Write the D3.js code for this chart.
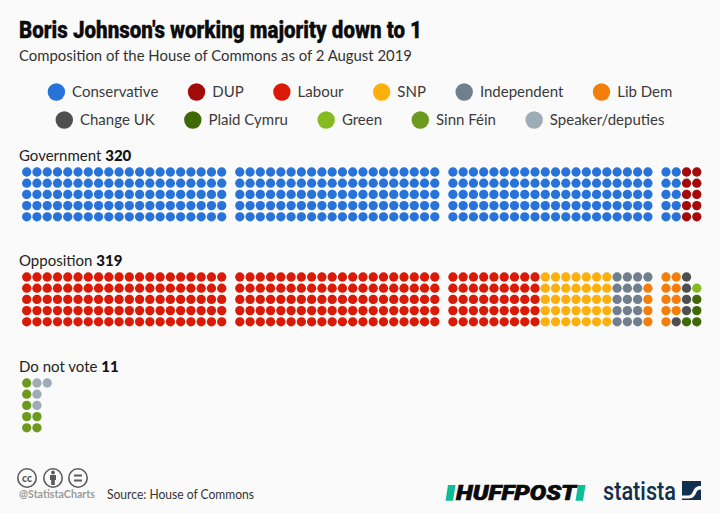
<!DOCTYPE html>
<html><head><meta charset="utf-8">
<script src="https://cdn.jsdelivr.net/npm/d3@7/dist/d3.min.js"></script>
<style>html,body{margin:0;padding:0;background:#fafafa}svg{display:block}text{font-family:Lato,"Open Sans",sans-serif}</style>
</head><body><svg id="c" width="720" height="513"></svg>
<script>
const title = "Boris Johnson's working majority down to 1";
const subtitle = "Composition of the House of Commons as of 2 August 2019";
const legendRow1 = ["Conservative","DUP","Labour","SNP","Independent","Lib Dem"];
const legendRow2 = ["Change UK","Plaid Cymru","Green","Sinn Féin","Speaker/deputies"];
const partyColors = {"Conservative":"#2873d9","DUP":"#a30b0b","Labour":"#da1a06","SNP":"#fdb00c","Independent":"#6f7f8e","Lib Dem":"#f47e0a","Change UK":"#4e4f51","Plaid Cymru":"#3e6905","Green":"#85ba22","Sinn Féin":"#6b9a1e","Speaker/deputies":"#9fabb6"};
const groupNames = ["Government","Opposition","Do not vote"];
const groupTotals = [320,319,11];
// runs of seats in fill order; null = empty seat position
const governmentParties = ["Conservative","DUP"];
const governmentSeats = [310,10];
const oppositionParties = ["Labour","SNP","Independent","Lib Dem","Change UK","Plaid Cymru",null,"Green","Plaid Cymru"];
const oppositionSeats = [245,35,16,13,5,1,1,1,3];
const nonVotingParties = ["Sinn Féin","Speaker/deputies","Sinn Féin","Speaker/deputies"];
const nonVotingSeats = [5,3,2,1];

const W=720;
const svg=d3.select("#c");
svg.append("rect").attr("width",W).attr("height",513).attr("fill","#fafafa");

// Titles
const t=svg.append("text").attr("x",19).attr("y",37.5).attr("font-size",23).attr("font-weight",900).attr("fill","#0c0c0c").attr("stroke","#0c0c0c").attr("stroke-width",0.3).text(title);
t.style("font-family","Roboto").attr("textLength",403).attr("lengthAdjust","spacingAndGlyphs");
svg.append("text").attr("x",19).attr("y",61).attr("font-size",15).attr("fill","#333").attr("textLength",393).attr("lengthAdjust","spacingAndGlyphs").text(subtitle);

// Legend
function legend(items,y){
  const g=svg.append("g");
  const r=8.7,pad=7,gap=29.5;
  const it=g.selectAll("g").data(items).join("g");
  it.append("circle").attr("r",r).attr("cy",y).attr("fill",d=>partyColors[d]);
  const tx=it.append("text").attr("y",y+5.3).attr("font-size",15).attr("fill","#3a3a3a").text(d=>d);
  const widths=[];tx.each(function(){widths.push(this.getComputedTextLength());});
  const total=d3.sum(widths)+items.length*(2*r+pad)+(items.length-1)*gap;
  let x=(W-total)/2;
  it.each(function(d,i){
    const s=d3.select(this);
    s.select("circle").attr("cx",x+r);
    s.select("text").attr("x",x+2*r+pad);
    x+=2*r+pad+widths[i]+gap;
  });
}
legend(legendRow1,92);
legend(legendRow2,120);

// Seat grid scales
const rows=d3.range(5), cols=d3.range(20), blocks=d3.range(4);
const colX=d3.scalePoint().domain(cols).range([0,195]);
const blockX=d3.scalePoint().domain(blocks).range([26.7,666]);
const rowY=d3.scalePoint().domain(rows).range([0,44.8]);
const groupTop=d3.scaleOrdinal().domain(groupNames).range([172,277,383]);

function expand(parties,seats){
  const out=[];
  parties.forEach((p,i)=>{for(let k=0;k<seats[i];k++)out.push(p);});
  return out.map((p,i)=>({party:p,i}));
}
function drawSeats(name,parties,seats){
  const data=expand(parties,seats).filter(d=>d.party);
  const seatX=i=>{const c=Math.floor(i/5);return blockX(Math.floor(c/20))+colX(c%20);};
  svg.append("g").selectAll("circle").data(data).join("circle")
    .attr("cx",d=>seatX(d.i))
    .attr("cy",d=>groupTop(name)+rowY(d.i%5))
    .attr("r",4.65)
    .attr("fill",d=>partyColors[d.party]);
}
drawSeats("Government",governmentParties,governmentSeats);
drawSeats("Opposition",oppositionParties,oppositionSeats);
drawSeats("Do not vote",nonVotingParties,nonVotingSeats);

// Group labels
groupNames.forEach((n,i)=>{
  const y=groupTop(n)-11;
  const l=svg.append("text").attr("x",19).attr("y",y).attr("font-size",15).attr("fill","#222");
  l.append("tspan").text(n+" ");
  l.append("tspan").attr("font-weight",900).attr("fill","#111").text(groupTotals[i]);
});

// Footer: CC icons
const ic=svg.append("g").attr("fill","none").attr("stroke","#5a5a5a").attr("stroke-width",1.6);
[27,53,78].forEach(cx=>ic.append("circle").attr("cx",cx).attr("cy",478).attr("r",9.2));
svg.append("text").attr("x",27).attr("y",481.5).attr("text-anchor","middle").attr("font-size",10.5).attr("font-weight",900).attr("fill","#5a5a5a").text("cc");
svg.append("circle").attr("cx",53).attr("cy",472.5).attr("r",1.9).attr("fill","#5a5a5a");
svg.append("path").attr("d","M50 475h6v5h-1.2v5h-3.6v-5H50z").attr("fill","#5a5a5a");
svg.append("path").attr("d","M74 475.5h8M74 480.5h8").attr("stroke","#5a5a5a").attr("stroke-width",1.8);
svg.append("text").attr("x",19).attr("y",498).attr("font-size",10.5).attr("font-weight",700).attr("fill","#9a9a9a").attr("textLength",76).attr("lengthAdjust","spacingAndGlyphs").text("@StatistaCharts");
svg.append("text").attr("x",107).attr("y",499).attr("font-size",13).attr("fill","#333").attr("textLength",147).attr("lengthAdjust","spacingAndGlyphs").text("Source: House of Commons");

// HuffPost wordmark
svg.append("path").attr("d","M448 485h7.5l-2.5 15.7h-7.5z").attr("fill","#0dbd97");
svg.append("path").attr("d","M578 485h7.5l-2.5 15.7h-7.5z").attr("fill","#0dbd97");
svg.append("text").attr("x",456).attr("y",500).attr("font-size",21).attr("font-weight",900).attr("font-style","italic").attr("fill","#0a0a0a").attr("stroke","#0a0a0a").attr("stroke-width",0.7).style("font-family","Roboto").attr("textLength",120).attr("lengthAdjust","spacingAndGlyphs").text("HUFFPOST");

// Statista wordmark
svg.append("text").attr("x",603).attr("y",500).attr("font-size",25).attr("font-weight",500).attr("fill","#12304c").style("font-family","Roboto").attr("textLength",73).attr("lengthAdjust","spacingAndGlyphs").text("statista");
svg.append("rect").attr("x",682).attr("y",481).attr("width",19).attr("height",19).attr("fill","#12304c");
svg.append("path").attr("d","M682 495.5h6c3 0 4-2 5.5-5s3-4.5 7.5-4.5v3.5c-3 0-4 1-5 3.5s-3 5.5-7.5 5.5H682z").attr("fill","#fafafa");
</script></body></html>
